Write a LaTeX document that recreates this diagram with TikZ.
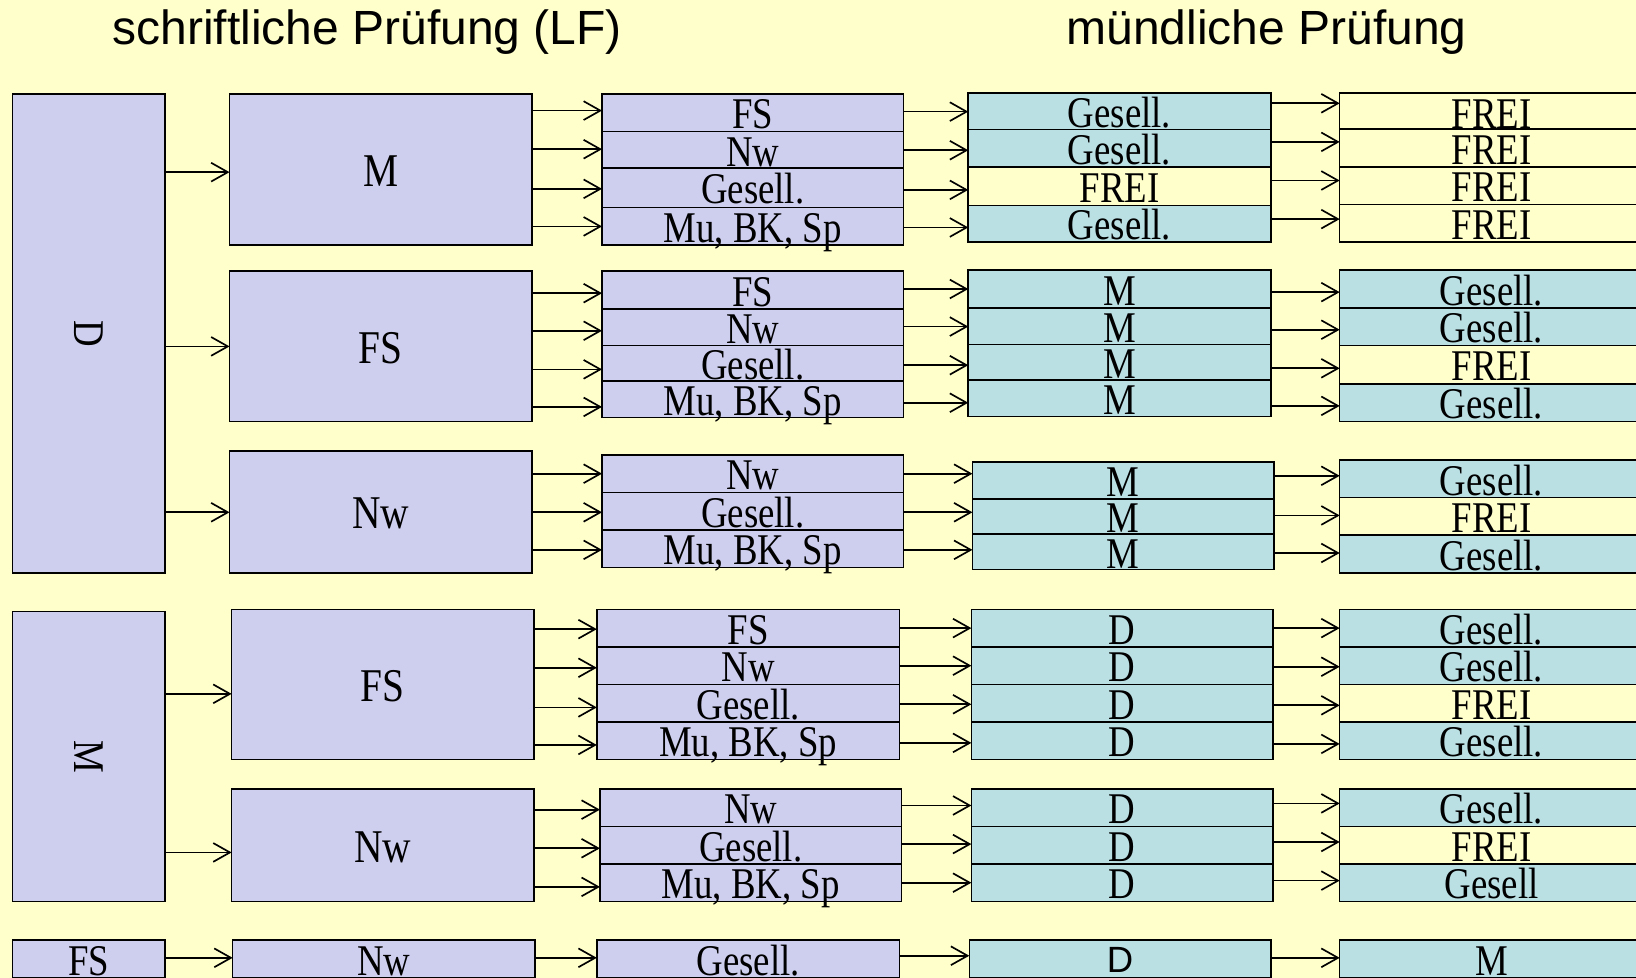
\documentclass[tikz,border=0pt]{standalone}
\usepackage{fontspec}
\setmainfont[FakeStretch=0.84]{Liberation Serif}
\newfontfamily\titlefont{Liberation Sans}
\usetikzlibrary{arrows.meta}
\definecolor{bgyellow}{RGB}{255,255,204}
\definecolor{lav}{RGB}{206,206,238}
\definecolor{tealc}{RGB}{186,224,228}
\tikzset{
  basebox/.style={draw=black, line width=1.5pt, inner sep=0pt, outer sep=0pt, anchor=center, font=\fontsize{42}{44}\selectfont},
  cell/.style={basebox, text height=31pt, text depth=0pt},
  lavcell/.style={cell, fill=lav},
  tealcell/.style={cell, fill=tealc},
  freicell/.style={cell, fill=bgyellow},
  bigcell/.style={basebox, fill=lav, text height=33pt, text depth=0pt, font=\fontsize{45}{47}\selectfont},
  sidecell/.style={basebox, fill=lav},
  sanscell/.style={basebox, fill=tealc, text height=26pt, text depth=0pt, font=\titlefont\fontsize{35}{37}\selectfont},
  arr/.style={-{Straight Barb[length=16pt,width=18pt,line width=1.6pt]}, line width=1.6pt},
  titletext/.style={font=\titlefont\fontsize{46}{48}\selectfont, anchor=base, inner sep=0pt},
}
\newcommand\bx[7]{\node[#6, minimum width={(#4-#2)*1pt}, minimum height={(#5-#3)*1pt}] (#1) at ({(#2+#4)/2},{(#3+#5)/2}) {#7};}
\newcommand\ar[3]{\draw[arr] (#1.east |- 0,#3) -- (#2.west |- 0,#3);}
\begin{document}
\begin{tikzpicture}[x=1pt,y=-1pt]
\useasboundingbox (0,0) rectangle (1568,937);
\clip (0,0) rectangle (1568,937);
\fill[bgyellow] (0,0) rectangle (1568,937);

% titles
\node[titletext] (t1) at (352,43) {schriftliche Prüfung (LF)};
\node[titletext] (t2) at (1214,43) {mündliche Prüfung};

% ===== Block 1: D -> M
\bx{D}{12}{90}{158}{549}{sidecell}{\rotatebox{-90}{D}}
\bx{M1}{220}{90}{510}{235}{bigcell}{M}
\bx{a1}{577}{90}{866}{126}{lavcell}{FS}
\bx{a2}{577}{126}{866}{163}{lavcell}{Nw}
\bx{a3}{577}{161}{866}{199}{lavcell}{Gesell.}
\bx{a4}{577}{199}{866}{235}{lavcell}{Mu, BK, Sp}
\bx{b1}{928}{89}{1218}{124}{tealcell}{Gesell.}
\bx{b2}{928}{124}{1218}{160}{tealcell}{Gesell.}
\bx{b3}{928}{160}{1218}{197}{freicell}{FREI}
\bx{b4}{928}{197}{1218}{232}{tealcell}{Gesell.}
\bx{c1}{1284}{89}{1575}{125.5}{freicell}{FREI}
\bx{c2}{1284}{123.5}{1575}{160}{freicell}{FREI}
\bx{c3}{1284}{160}{1575}{196}{freicell}{FREI}
\bx{c4}{1284}{196}{1575}{232}{freicell}{FREI}
\ar{D}{M1}{165}
\ar{M1}{a1}{106}\ar{M1}{a2}{143}\ar{M1}{a3}{181}\ar{M1}{a4}{217}
\ar{a1}{b1}{107}\ar{a2}{b2}{144}\ar{a3}{b3}{182}\ar{a4}{b4}{218}
\ar{b1}{c1}{99}\ar{b2}{c2}{136}\ar{b3}{c3}{173}\ar{b4}{c4}{210}

% ===== Block 2: D -> FS
\bx{FS1}{220}{260}{510}{404}{bigcell}{FS}
\bx{d1}{577}{260}{866}{296}{lavcell}{FS}
\bx{d2}{577}{296}{866}{331}{lavcell}{Nw}
\bx{d3}{577}{331}{866}{365}{lavcell}{Gesell.}
\bx{d4}{577}{365}{866}{400}{lavcell}{Mu, BK, Sp}
\bx{e1}{928}{259}{1218}{295}{tealcell}{M}
\bx{e2}{928}{295}{1218}{330}{tealcell}{M}
\bx{e3}{928}{330}{1218}{364}{tealcell}{M}
\bx{e4}{928}{364}{1218}{399}{tealcell}{M}
\bx{f1}{1284}{259}{1575}{295}{tealcell}{Gesell.}
\bx{f2}{1284}{295}{1575}{331}{tealcell}{Gesell.}
\bx{f3}{1284}{331}{1575}{368}{freicell}{FREI}
\bx{f4}{1284}{368}{1575}{404}{tealcell}{Gesell.}
\ar{D}{FS1}{332}
\ar{FS1}{d1}{281}\ar{FS1}{d2}{317}\ar{FS1}{d3}{354}\ar{FS1}{d4}{390}
\ar{d1}{e1}{277}\ar{d2}{e2}{313}\ar{d3}{e3}{350}\ar{d4}{e4}{386}
\ar{e1}{f1}{280}\ar{e2}{f2}{316}\ar{e3}{f3}{353}\ar{e4}{f4}{389}

% ===== Block 3: D -> Nw
\bx{Nw1}{220}{432}{510}{549}{bigcell}{Nw}
\bx{g1}{577}{436}{866}{472}{lavcell}{Nw}
\bx{g2}{577}{472}{866}{508}{lavcell}{Gesell.}
\bx{g3}{577}{508}{866}{544}{lavcell}{Mu, BK, Sp}
\bx{h1}{932}{443}{1221}{478}{tealcell}{M}
\bx{h2}{932}{478}{1221}{512}{tealcell}{M}
\bx{h3}{932}{512}{1221}{546}{tealcell}{M}
\bx{i1}{1284}{441}{1575}{477}{tealcell}{Gesell.}
\bx{i2}{1284}{477}{1575}{513}{freicell}{FREI}
\bx{i3}{1284}{513}{1575}{549}{tealcell}{Gesell.}
\ar{D}{Nw1}{491}
\ar{Nw1}{g1}{454}\ar{Nw1}{g2}{491}\ar{Nw1}{g3}{527}
\ar{g1}{h1}{454}\ar{g2}{h2}{491}\ar{g3}{h3}{527}
\ar{h1}{i1}{456}\ar{h2}{i2}{494}\ar{h3}{i3}{530}

% ===== Block 4: M -> FS
\bx{Ms}{12}{586}{158}{864}{sidecell}{\rotatebox{-90}{M}}
\bx{FS2}{222}{584}{512}{728}{bigcell}{FS}
\bx{j1}{572}{584}{862}{620}{lavcell}{FS}
\bx{j2}{572}{620}{862}{656}{lavcell}{Nw}
\bx{j3}{572}{656}{862}{692}{lavcell}{Gesell.}
\bx{j4}{572}{692}{862}{728}{lavcell}{Mu, BK, Sp}
\bx{k1}{931}{584}{1220}{620}{tealcell}{D}
\bx{k2}{931}{620}{1220}{656}{tealcell}{D}
\bx{k3}{931}{656}{1220}{692}{tealcell}{D}
\bx{k4}{931}{692}{1220}{728}{tealcell}{D}
\bx{l1}{1284}{584}{1575}{620}{tealcell}{Gesell.}
\bx{l2}{1284}{620}{1575}{656}{tealcell}{Gesell.}
\bx{l3}{1284}{656}{1575}{692}{freicell}{FREI}
\bx{l4}{1284}{692}{1575}{728}{tealcell}{Gesell.}
\ar{Ms}{FS2}{665}
\ar{FS2}{j1}{603}\ar{FS2}{j2}{640}\ar{FS2}{j3}{678}\ar{FS2}{j4}{714}
\ar{j1}{k1}{602}\ar{j2}{k2}{638}\ar{j3}{k3}{675}\ar{j4}{k4}{712}
\ar{k1}{l1}{602}\ar{k2}{l2}{639}\ar{k3}{l3}{676}\ar{k4}{l4}{713}

% ===== Block 5: M -> Nw
\bx{Nw2}{222}{756}{512}{864}{bigcell}{Nw}
\bx{m1}{575}{756}{864}{792}{lavcell}{Nw}
\bx{m2}{575}{792}{864}{828}{lavcell}{Gesell.}
\bx{m3}{575}{828}{864}{864}{lavcell}{Mu, BK, Sp}
\bx{n1}{931}{756}{1220}{792}{tealcell}{D}
\bx{n2}{931}{792}{1220}{828}{tealcell}{D}
\bx{n3}{931}{828}{1220}{864}{tealcell}{D}
\bx{o1}{1284}{756}{1575}{792}{tealcell}{Gesell.}
\bx{o2}{1284}{792}{1575}{828}{freicell}{FREI}
\bx{o3}{1284}{828}{1575}{864}{tealcell}{Gesell}
\ar{Ms}{Nw2}{817}
\ar{Nw2}{m1}{776}\ar{Nw2}{m2}{813}\ar{Nw2}{m3}{850}
\ar{m1}{n1}{772}\ar{m2}{n2}{809}\ar{m3}{n3}{846}
\ar{n1}{o1}{770}\ar{n2}{o2}{807}\ar{n3}{o3}{844}

% ===== Block 6: FS -> Nw -> Gesell.
\bx{FS3}{12}{901}{158}{937}{lavcell}{FS}
\bx{Nw3}{223}{901}{513}{937}{lavcell}{Nw}
\bx{p1}{572}{901}{862}{937}{lavcell}{Gesell.}
\bx{q1}{929}{901}{1218}{937}{sanscell}{D}
\bx{r1}{1284}{901}{1575}{937}{tealcell}{M}
\ar{FS3}{Nw3}{918}
\ar{Nw3}{p1}{918}
\ar{p1}{q1}{916}
\ar{q1}{r1}{918}
\end{tikzpicture}
\end{document}
